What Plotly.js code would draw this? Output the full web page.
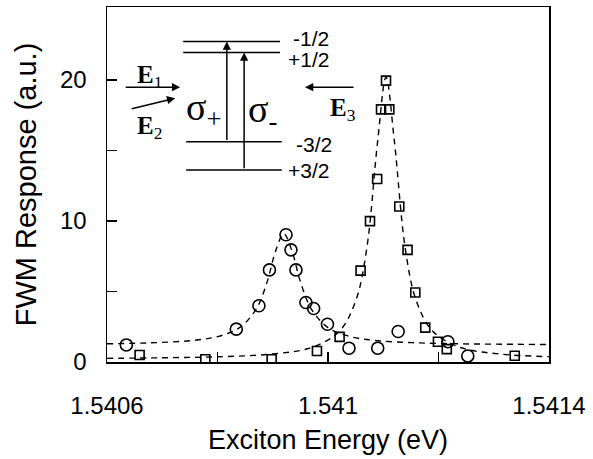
<!DOCTYPE html>
<html>
<head>
<meta charset="utf-8">
<script src="https://cdn.plot.ly/plotly-3.0.1.min.js"></script>
<style>html,body{margin:0;padding:0;background:#fff;}#plot{width:593px;height:459px;}</style>
</head>
<body>
<div id="plot"></div>
<script>
// Measured data: open circles
var circleEnergy = [1.540635, 1.540834, 1.540875, 1.540894, 1.540924, 1.540933, 1.540942, 1.540960, 1.540974, 1.540999, 1.541038, 1.541090, 1.541127, 1.541217, 1.541253];
var circleResp   = [1.21, 2.33, 3.99, 6.53, 9.02, 7.95, 6.53, 4.22, 3.79, 2.68, 0.98, 0.98, 2.16, 1.44, 0.43];
// Measured data: open squares
var squareEnergy = [1.540659, 1.540778, 1.540898, 1.540980, 1.541021, 1.541059, 1.541076, 1.541089, 1.541096, 1.541105, 1.541111, 1.541129, 1.541144, 1.541158, 1.541176, 1.541199, 1.541215, 1.541338];
var squareResp   = [0.50, 0.19, 0.19, 0.78, 1.78, 6.48, 9.99, 12.98, 17.91, 19.95, 17.91, 11.03, 7.95, 4.93, 2.44, 1.44, 0.91, 0.44];
// Dashed fit curves
var fitCircleEnergy = [1.5406, 1.54068, 1.54075, 1.5408, 1.54084, 1.54087, 1.54089, 1.540905, 1.54092, 1.540935, 1.54095, 1.54097, 1.541, 1.54104, 1.54109, 1.54116, 1.54124, 1.54132, 1.5414];
var fitCircleResp   = [1.29, 1.36, 1.51, 1.80, 2.44, 3.75, 5.70, 7.84, 9.10, 7.84, 5.70, 3.75, 2.44, 1.80, 1.51, 1.36, 1.29, 1.26, 1.24];
var fitSquareEnergy = [1.5406, 1.5407, 1.5408, 1.5409, 1.54097, 1.54102, 1.54105, 1.54107, 1.54109, 1.541105, 1.54112, 1.54114, 1.54116, 1.54119, 1.54124, 1.54131, 1.5414];
var fitSquareResp   = [0.26, 0.30, 0.37, 0.57, 1.03, 2.16, 4.32, 8.01, 15.7, 20.2, 15.7, 8.01, 4.32, 2.16, 1.03, 0.57, 0.38];
// Axis ticks
var xTickVals = [1.5406, 1.541, 1.5414];
var xTickText = ['1.5406', '1.541', '1.5414'];
var xMinorVals = [1.5408, 1.5412];
var yTickVals = [0, 10, 20];
var yTickText = ['0', '10', '20'];
var yMinorVals = [5, 15];

var dashStyle = {color: '#000', width: 1.4, dash: '6px,5px', shape: 'spline'};
var traces = [
  {x: fitCircleEnergy, y: fitCircleResp, mode: 'lines', line: dashStyle, hoverinfo: 'skip'},
  {x: fitSquareEnergy, y: fitSquareResp, mode: 'lines', line: dashStyle, hoverinfo: 'skip'},
  {x: circleEnergy, y: circleResp, mode: 'markers', marker: {symbol: 'circle-open', size: 12, color: '#000', line: {width: 1.6, color: '#000'}}},
  {x: squareEnergy, y: squareResp, mode: 'markers', marker: {symbol: 'square-open', size: 9, color: '#000', line: {width: 1.6, color: '#000'}}}
];

var L = 106.7, T = 7.3, W = 442.6, H = 354.4;
function px(x) { return (x - L) / W; }
function py(y) { return (T + H - y) / H; }

var lineStyle = {color: '#000', width: 1.5};
var shapes = [
  {type: 'line', xref: 'paper', yref: 'paper', x0: px(183), x1: px(280), y0: py(41.7), y1: py(41.7), line: lineStyle},
  {type: 'line', xref: 'paper', yref: 'paper', x0: px(183), x1: px(280), y0: py(52.7), y1: py(52.7), line: lineStyle},
  {type: 'line', xref: 'paper', yref: 'paper', x0: px(186), x1: px(281.7), y0: py(141.7), y1: py(141.7), line: lineStyle},
  {type: 'line', xref: 'paper', yref: 'paper', x0: px(186), x1: px(281.7), y0: py(170), y1: py(170), line: lineStyle}
];

function arrow(hx, hy, tx, ty) {
  return {xref: 'paper', yref: 'paper', x: px(hx), y: py(hy), ax: tx - hx, ay: ty - hy, text: '',
          showarrow: true, arrowhead: 2, arrowsize: 1.1, arrowwidth: 1.5, arrowcolor: '#000', standoff: 0, startstandoff: 0};
}
var sans = 'Liberation Sans, Arial, Helvetica, sans-serif';
var serif = 'Liberation Serif, Times New Roman, serif';
function label(txt, x, y, size, fam) {
  return {xref: 'paper', yref: 'paper', x: px(x), y: py(y), text: txt, showarrow: false,
          xanchor: 'left', yanchor: 'middle', font: {family: fam, size: size, color: '#000'}};
}
var annotations = [
  arrow(226.7, 41.7, 226.7, 141.7),
  arrow(244, 52.7, 244, 170),
  arrow(180, 87.3, 124, 87.3),
  arrow(175, 98.3, 130, 109.3),
  arrow(305, 87.3, 355, 87.3),
  label('-1/2', 291, 39, 21, sans),
  label('+1/2', 286, 60, 21, sans),
  label('-3/2', 294, 145, 21, sans),
  label('+3/2', 286, 171, 21, sans),
  label('<b>E</b><sub>1</sub>', 135, 77, 25, serif),
  label('<b>E</b><sub>2</sub>', 135, 128, 25, serif),
  label('<b>E</b><sub>3</sub>', 328, 110, 25, serif),
  label('σ<sub>+</sub>', 184, 110, 38, serif),
  label('σ<sub>-</sub>', 246, 112, 38, serif)
];

var axisCommon = {showline: true, linecolor: '#000', linewidth: 1.5, mirror: true, ticks: 'inside', ticklen: 10,
                  tickwidth: 1.5, tickcolor: '#000', showgrid: false, zeroline: false, tickmode: 'array',
                  tickfont: {family: sans, size: 24, color: '#000'}};
var layout = {
  width: 593, height: 459,
  margin: {l: L, r: 593 - L - W, t: T, b: 459 - T - H, pad: 0},
  paper_bgcolor: '#fff', plot_bgcolor: '#fff', showlegend: false,
  xaxis: Object.assign({}, axisCommon, {range: [1.5406, 1.5414], tickvals: xTickVals, ticktext: xTickText,
          minor: {tickmode: 'array', tickvals: xMinorVals, ticks: 'inside', ticklen: 10, tickwidth: 1.5, tickcolor: '#000', showgrid: false},
          ticklabelstandoff: 22,
          title: {text: 'Exciton Energy (eV)', font: {family: sans, size: 27, color: '#000'}, standoff: 12}}),
  yaxis: Object.assign({}, axisCommon, {range: [0, 25.17], tickvals: yTickVals, ticktext: yTickText,
          minor: {tickmode: 'array', tickvals: yMinorVals, ticks: 'inside', ticklen: 10, tickwidth: 1.5, tickcolor: '#000', showgrid: false},
          ticklabelstandoff: 14,
          title: {text: 'FWM Response (a.u.)', font: {family: sans, size: 29, color: '#000'}, standoff: 15}}),
  shapes: shapes,
  annotations: annotations
};
Plotly.newPlot('plot', traces, layout, {staticPlot: true, displayModeBar: false});
</script>
</body>
</html>
